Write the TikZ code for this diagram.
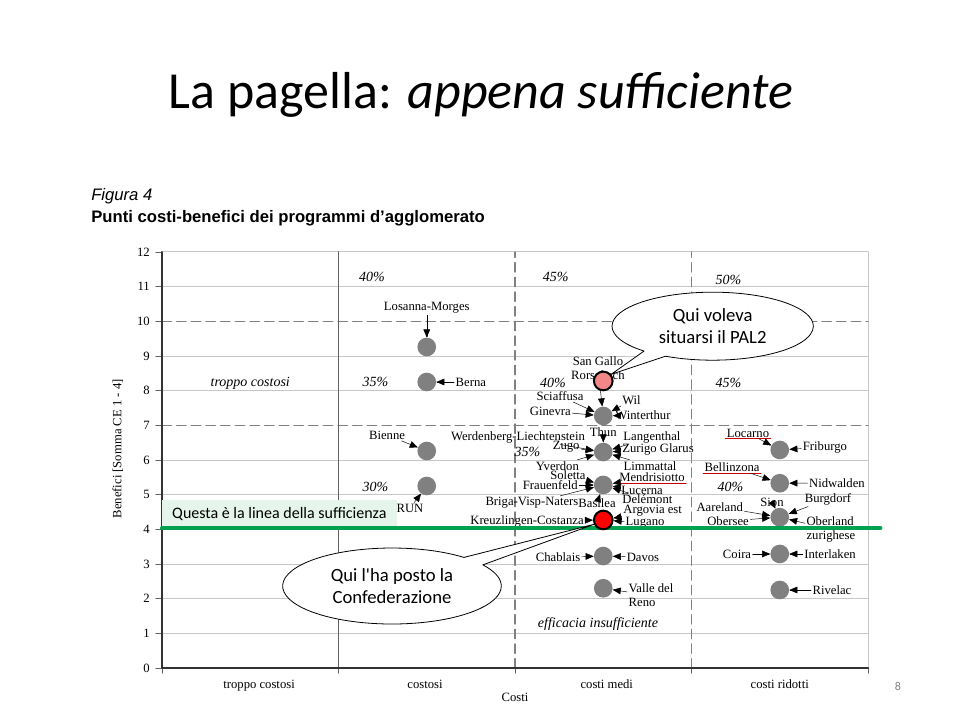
\documentclass[tikz,border=0pt]{standalone}
\usepackage{fontspec}
\setmainfont{Liberation Serif}
\newfontfamily\slidefont{Carlito}
\newfontfamily\figfont{Liberation Sans}
\usepackage{tikz}
\usetikzlibrary{calc}
\usetikzlibrary{arrows}
\usetikzlibrary{shapes.callouts}
\definecolor{ffqqqq}{rgb}{1.,0.,0.}
\definecolor{ffzzzz}{rgb}{0.95,0.53,0.53}
\definecolor{zzzzzz}{rgb}{0.5,0.5,0.5}
\definecolor{cccccc}{rgb}{0.78,0.78,0.78}
\definecolor{wwwwww}{rgb}{0.38,0.38,0.38}
\definecolor{qqzzqq}{rgb}{0.,0.63,0.31}
\definecolor{eeffee}{rgb}{0.9,0.96,0.92}
\definecolor{ccqqqq}{rgb}{0.8,0.,0.}
\tikzstyle{every node}=[font=\fontsize{9.5}{10.5}\selectfont,inner sep=1pt]
\tikzstyle{punto}=[circle,fill=zzzzzz,minimum size=14pt,inner sep=0pt]
\tikzstyle{perc}=[font=\itshape\fontsize{10.5}{12}\selectfont]
\tikzstyle{freccia}=[->,line width=0.35pt]
\tikzstyle{nuvola}=[ellipse callout,draw,fill=white,line width=0.6pt,inner sep=0pt,align=center,font=\slidefont\fontsize{14}{17}\selectfont]
\tikzstyle{griglia}=[line width=0.75pt,color=cccccc]
\tikzstyle{tratt}=[line width=1.1pt,color=zzzzzz,dash pattern=on 7pt off 4pt]
\tikzstyle{tacca}=[line width=0.6pt,color=wwwwww]

\begin{document}
\begin{tikzpicture}[line cap=round,line join=round,>=triangle 45,x=0.75pt,y=-0.75pt]
\useasboundingbox (0,0) rectangle (960,720);
\node[anchor=base,font=\slidefont\fontsize{39}{47}\selectfont] (titolo) at (481,109) {La pagella: {\itshape appena sufficiente}};
\node[anchor=base west,font=\figfont\itshape\fontsize{12.5}{14}\selectfont,inner sep=0pt] (figura) at (91,201) {Figura 4};
\node[anchor=base west,font=\figfont\bfseries\fontsize{12.5}{14}\selectfont,inner sep=0pt] (sottotitolo) at (91,223) {Punti costi-benefici dei programmi d’agglomerato};
\node[font=\slidefont\fontsize{9}{10}\selectfont,color=zzzzzz] (pagina) at (898,686) {8};
\begin{scope}[shift={(121.5pt,-501pt)},x=132.375pt,y=26pt]
\draw[griglia] (0,1) -- (4,1) (0,2) -- (4,2) (0,3) -- (4,3) (0,4) -- (4,4) (0,5) -- (4,5) (0,6) -- (4,6) (0,8) -- (4,8) (0,9) -- (4,9) (0,11) -- (4,11) (0,12) -- (4,12) (4,0) -- (4,12);
\draw[tratt] (0,7) -- (4,7) (0,10) -- (4,10) (2,0) -- (2,12) (3,0) -- (3,12);
\draw[line width=1.2pt,color=wwwwww] (1,0) -- (1,12);
\draw[tacca] (-0.035,0) -- (0,0) (-0.035,1) -- (0,1) (-0.035,2) -- (0,2) (-0.035,3) -- (0,3) (-0.035,4) -- (0,4) (-0.035,5) -- (0,5) (-0.035,6) -- (0,6) (-0.035,7) -- (0,7) (-0.035,8) -- (0,8) (-0.035,9) -- (0,9) (-0.035,10) -- (0,10) (-0.035,11) -- (0,11) (-0.035,12) -- (0,12);
\draw[tacca] (0,0) -- (0,-0.15) (1,0) -- (1,-0.15) (2,0) -- (2,-0.15) (3,0) -- (3,-0.15) (4,0) -- (4,-0.15);
\draw[line width=1.5pt,color=black!80] (0,12) -- (0,0) -- (4,0);
\node[anchor=east,inner sep=0pt] (y0) at (-0.068,0) {0};
\node[anchor=east,inner sep=0pt] (y1) at (-0.068,1) {1};
\node[anchor=east,inner sep=0pt] (y2) at (-0.068,2) {2};
\node[anchor=east,inner sep=0pt] (y3) at (-0.068,3) {3};
\node[anchor=east,inner sep=0pt] (y4) at (-0.068,4) {4};
\node[anchor=east,inner sep=0pt] (y5) at (-0.068,5) {5};
\node[anchor=east,inner sep=0pt] (y6) at (-0.068,6) {6};
\node[anchor=east,inner sep=0pt] (y7) at (-0.068,7) {7};
\node[anchor=east,inner sep=0pt] (y8) at (-0.068,8) {8};
\node[anchor=east,inner sep=0pt] (y9) at (-0.068,9) {9};
\node[anchor=east,inner sep=0pt] (y10) at (-0.068,10) {10};
\node[anchor=east,inner sep=0pt] (y11) at (-0.068,11) {11};
\node[anchor=east,inner sep=0pt] (y12) at (-0.068,12) {12};
\node[rotate=90] (asseY) at (-0.25,6.32) {Benefici [Somma CE 1 - 4]};
\node[anchor=base] (cat1) at (0.55,-0.58) {troppo costosi};
\node[anchor=base] (cat2) at (1.49,-0.58) {costosi};
\node[anchor=base] (cat3) at (2.52,-0.58) {costi medi};
\node[anchor=base] (cat4) at (3.5,-0.58) {costi ridotti};
\node[anchor=base] (asseX) at (2.0,-0.98) {Costi};
\node[perc] (p40a) at (1.19,11.28) {40\%};
\node[perc] (p45a) at (2.23,11.28) {45\%};
\node[perc] (p50a) at (3.21,11.19) {50\%};
\node[perc] (p35a) at (1.21,8.25) {35\%};
\node[perc] (p40b) at (2.215,8.22) {40\%};
\node[perc] (p45b) at (3.21,8.22) {45\%};
\node[perc] (p30a) at (1.21,5.22) {30\%};
\node[perc] (p35b) at (2.07,6.23) {35\%};
\node[perc] (p40c) at (3.22,5.22) {40\%};
\node[perc] (troppo) at (0.5,8.22) {troppo costosi};
\node[perc] (efficacia) at (2.47,1.27) {efficacia insufficiente};
\node[fill=eeffee,minimum width=176pt,minimum height=20pt,inner sep=0pt,font=\slidefont\fontsize{12}{14}\selectfont] (suff) at (0.665,4.455) {Questa è la linea della sufficienza};
\node[punto] (c1) at (1.5,9.26) {};
\node[punto] (c2) at (1.5,8.25) {};
\node[punto] (c3) at (1.5,6.26) {};
\node[punto] (c4) at (1.5,5.25) {};
\node[punto] (m1) at (2.5,7.27) {};
\node[punto] (m2) at (2.5,6.23) {};
\node[punto] (m3) at (2.5,5.28) {};
\node[punto] (m4) at (2.5,3.23) {};
\node[punto] (m5) at (2.5,2.3) {};
\node[punto] (r1) at (3.5,6.29) {};
\node[punto] (r2) at (3.5,5.33) {};
\node[punto] (r3) at (3.5,4.35) {};
\node[punto] (r4) at (3.5,3.29) {};
\node[punto] (r5) at (3.5,2.25) {};
\node (losanna) at (1.50,10.38) {Losanna-Morges};
\node[anchor=west] (berna) at (1.655,8.25) {Berna};
\node (bienne) at (1.275,6.72) {Bienne};
\node (run) at (1.405,4.61) {RUN};
\node[align=center] (sangallo) at (2.47,8.65) {San Gallo\\Rorschach};
\node (sciaffusa) at (2.255,7.85) {Sciaffusa};
\node (ginevra) at (2.20,7.41) {Ginevra};
\node (wil) at (2.66,7.73) {Wil};
\node (winterthur) at (2.725,7.30) {Winterthur};
\node (werdenberg) at (2.017,6.66) {Werdenberg-Liechtenstein};
\node (thun) at (2.50,6.81) {Thun};
\node (langenthal) at (2.776,6.66) {Langenthal};
\node (zugo) at (2.29,6.37) {Zugo};
\node (zurigo) at (2.81,6.29) {Zurigo Glarus};
\node (yverdon) at (2.24,5.83) {Yverdon};
\node (limmattal) at (2.765,5.83) {Limmattal};
\node (soletta) at (2.30,5.57) {Soletta};
\node (mendrisio) at (2.776,5.51) {Mendrisiotto};
\node (frauenfeld) at (2.20,5.28) {Frauenfeld};
\node (lucerna) at (2.72,5.13) {Lucerna};
\node (delemont) at (2.75,4.87) {Delémont};
\node (briga) at (2.096,4.76) {Briga-Visp-Naters};
\node (basilea) at (2.465,4.76) {Basilea};
\node (argovia) at (2.78,4.53) {Argovia est};
\node (kreuzlingen) at (2.068,4.24) {Kreuzlingen-Costanza};
\node (lugano) at (2.737,4.18) {Lugano};
\node (chablais) at (2.244,3.20) {Chablais};
\node (davos) at (2.725,3.20) {Davos};
\node[anchor=west,align=left] (valle) at (2.635,2.09) {Valle del\\Reno};
\node (locarno) at (3.32,6.78) {Locarno};
\node (friburgo) at (3.756,6.37) {Friburgo};
\node (bellinzona) at (3.23,5.80) {Bellinzona};
\node (nidwalden) at (3.824,5.34) {Nidwalden};
\node (burgdorf) at (3.773,4.87) {Burgdorf};
\node (sion) at (3.456,4.79) {Sion};
\node (aareland) at (3.16,4.64) {Aareland};
\node (obersee) at (3.207,4.24) {Obersee};
\node[anchor=west,align=left] (oberland) at (3.643,3.995) {Oberland\\zurighese};
\node (coira) at (3.258,3.29) {Coira};
\node (interlaken) at (3.785,3.29) {Interlaken};
\node (rivelac) at (3.796,2.25) {Rivelac};
\draw[color=ccqqqq,line width=0.6pt] (mendrisio.south west) -- (mendrisio.south east);
\draw[color=ccqqqq,line width=0.6pt] (locarno.south west) -- (locarno.south east);
\draw[color=ccqqqq,line width=0.6pt] (bellinzona.south west) -- (bellinzona.south east);
\draw[freccia] (losanna) -- (c1);
\draw[freccia] (berna) -- (c2);
\draw[freccia] (bienne) -- (c3);
\draw[freccia] (run) -- (c4);
\draw[freccia] (sangallo) -- (m1);
\draw[freccia] (sciaffusa) -- (m1);
\draw[freccia] (ginevra) -- (m1);
\draw[freccia] (wil) -- (m1);
\draw[freccia] (winterthur) -- (m1);
\draw[freccia] (werdenberg) -- (m2);
\draw[freccia] (thun) -- (m2);
\draw[freccia] (langenthal) -- (m2);
\draw[freccia] (zugo) -- (m2);
\draw[freccia] (zurigo) -- (m2);
\draw[freccia] (yverdon) -- (m2);
\draw[freccia] (limmattal) -- (m2);
\draw[freccia] (soletta) -- (m3);
\draw[freccia] (mendrisio) -- (m3);
\draw[freccia] (frauenfeld) -- (m3);
\draw[freccia] (lucerna) -- (m3);
\draw[freccia] (delemont) -- (m3);
\draw[freccia] (briga) -- (m3);
\draw[freccia] (basilea) -- (m3);
\draw[freccia] (chablais) -- (m4);
\draw[freccia] (davos) -- (m4);
\draw[freccia] (valle) -- (m5);
\draw[freccia] (locarno) -- (r1);
\draw[freccia] (friburgo) -- (r1);
\draw[freccia] (bellinzona) -- (r2);
\draw[freccia] (nidwalden) -- (r2);
\draw[freccia] (burgdorf) -- (r3);
\draw[freccia] (sion) -- (r3);
\draw[freccia] (aareland) -- (r3);
\draw[freccia] (obersee) -- (r3);
\draw[freccia] (oberland) -- (r3);
\draw[freccia] (coira) -- (r4);
\draw[freccia] (interlaken) -- (r4);
\draw[freccia] (rivelac) -- (r5);
\coordinate (sufA) at (0,4.04);
\coordinate (sufB) at (4.07,4.04);
\draw[line width=3pt,color=qqzzqq] (sufA) -- (sufB);
\node[punto,fill=ffzzzz,draw=black,line width=1.5pt] (sg) at (2.5,8.28) {};
\node[punto,fill=ffqqqq,draw=black,line width=1.5pt] (lug) at (2.5,4.27) {};
\draw[freccia] (kreuzlingen) -- (lug);
\draw[freccia] (argovia) -- (lug);
\draw[freccia] (lugano) -- (lug);
\node[nuvola,minimum width=151pt,minimum height=51pt,callout absolute pointer={(sg.40)}] (pal) at (3.12,9.86) {Qui voleva\\situarsi il PAL2};
\node[nuvola,minimum width=164pt,minimum height=57pt,callout absolute pointer={(lug.205)}] (conf) at (1.303,2.365) {Qui l'ha posto la\\Confederazione};
\end{scope}
\end{tikzpicture}
\end{document}
